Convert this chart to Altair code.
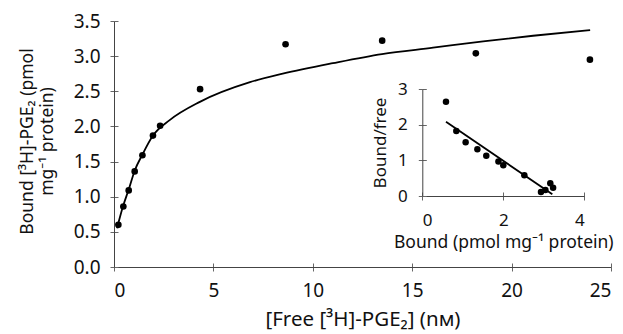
import altair as alt
import pandas as pd

# Main saturation data
free_nm = [0.22, 0.47, 0.74, 1.04, 1.43, 1.96, 2.32, 4.33, 8.63, 13.49, 18.2, 23.94]
bound_pmol = [0.60, 0.86, 1.09, 1.36, 1.59, 1.87, 2.01, 2.53, 3.17, 3.22, 3.04, 2.95]

# Fitted curve
curve_x = [0.15, 0.45, 0.76, 1.04, 1.43, 1.96, 2.8, 4.32, 6.84, 8.49, 11.01, 13.48, 16.05, 18.57, 21.08, 23.95]
curve_y = [0.55, 0.86, 1.12, 1.37, 1.60, 1.87, 2.09, 2.35, 2.63, 2.75, 2.90, 3.03, 3.12, 3.21, 3.29, 3.37]

# Scatchard inset
sc_bound = [0.585, 0.84, 1.07, 1.36, 1.58, 1.88, 2.0, 2.52, 2.93, 3.04, 3.16, 3.23]
sc_ratio = [2.64, 1.82, 1.51, 1.31, 1.13, 0.97, 0.86, 0.58, 0.11, 0.17, 0.36, 0.23]
sc_line_x = [0.585, 3.21]
sc_line_y = [2.08, 0.05]

main_x_ticks = [0, 5, 10, 15, 20, 25]
main_y_ticks = [0, 0.5, 1.0, 1.5, 2.0, 2.5, 3.0, 3.5]
inset_x_ticks = [0, 2, 4]
inset_y_ticks = [0, 1, 2, 3]

W, H = 497, 246
INSET_X = [308.3, 470.3]
INSET_Y = [175, 68]

FONT = "Noto Sans"
DOM = "#444444"
TICK = "#666666"
TXT = "#111111"

pts = pd.DataFrame({"x": free_nm, "y": bound_pmol})
crv = pd.DataFrame({"x": curve_x, "y": curve_y})
spts = pd.DataFrame({"x": sc_bound, "y": sc_ratio})
sline = pd.DataFrame({"x": sc_line_x, "y": sc_line_y})

mx_scale = alt.Scale(domain=[0, 25], nice=False, zero=False)
my_scale = alt.Scale(domain=[0, 3.5], nice=False, zero=False)
ix_scale = alt.Scale(domain=[0, 4], range=INSET_X, nice=False, zero=False)
iy_scale = alt.Scale(domain=[0, 3], range=INSET_Y, nice=False, zero=False)

main_pts = alt.Chart(pts).mark_circle(size=44, color="black", opacity=1).encode(
    x=alt.X("x:Q", scale=mx_scale, axis=alt.Axis(
        orient="bottom", values=main_x_ticks, format="d", grid=False,
        title="[Free [³H]-PGE₂] (nм)", titleY=58, titleBaseline="alphabetic",
        titleFontSize=20.5, labelFontSize=19, tickSize=4, labelPadding=25,
        labelBaseline="alphabetic", domainColor=DOM, tickColor=TICK,
        labelColor=TXT, titleColor=TXT, titleFontWeight="normal")),
    y=alt.Y("y:Q", scale=my_scale, axis=alt.Axis(
        orient="left", values=main_y_ticks, format=".1f", grid=False,
        title=["Bound [³H]-PGE₂ (pmol", "mg⁻¹ protein)"], titleX=-82, titleY=120,
        titleBaseline="alphabetic", titleAngle=270, titleLineHeight=20,
        titleFontSize=17.5, labelFontSize=19, tickSize=4, labelPadding=10,
        domainColor=DOM, tickColor=TICK, labelColor=TXT, titleColor=TXT,
        titleFontWeight="normal")),
)

main_curve = alt.Chart(crv).mark_line(color="black", strokeWidth=1.8, interpolate="monotone").encode(
    x=alt.X("x:Q", scale=mx_scale, axis=alt.Axis(
        orient="bottom", values=main_x_ticks, labels=False, domain=False, grid=False,
        title=None, offset=-4, tickSize=4, tickColor=TICK)),
    y=alt.Y("y:Q", scale=my_scale, axis=alt.Axis(
        orient="left", values=main_y_ticks, labels=False, domain=False, grid=False,
        title=None, offset=-4, tickSize=4, tickColor=TICK)),
)

inset_pts = alt.Chart(spts).mark_circle(size=42, color="black", opacity=1).encode(
    x=alt.X("x:Q", scale=ix_scale, axis=alt.Axis(
        orient="bottom", values=inset_x_ticks, format="d", grid=False, offset=-71,
        title="Bound (pmol mg⁻¹ protein)", titleY=51, titleBaseline="alphabetic",
        titleFontSize=17.5, labelFontSize=17, tickSize=4, labelPadding=25,
        labelBaseline="alphabetic", domainColor=DOM, tickColor=TICK,
        labelColor=TXT, titleColor=TXT, titleFontWeight="normal")),
    y=alt.Y("y:Q", scale=iy_scale, axis=alt.Axis(
        orient="left", values=inset_y_ticks, format="d", grid=False, offset=-308.3,
        title="Bound/free", titleX=-37, titleBaseline="alphabetic", titleAngle=270,
        titleFontSize=17, labelFontSize=17, tickSize=4, labelPadding=11,
        domainColor=DOM, tickColor=TICK, labelColor=TXT, titleColor=TXT,
        titleFontWeight="normal")),
)

inset_line = alt.Chart(sline).mark_line(color="black", strokeWidth=1.8).encode(
    x=alt.X("x:Q", scale=ix_scale, axis=alt.Axis(
        orient="bottom", values=inset_x_ticks, labels=False, domain=False, grid=False,
        title=None, offset=-75, tickSize=4, tickColor=TICK)),
    y=alt.Y("y:Q", scale=iy_scale, axis=alt.Axis(
        orient="left", values=inset_y_ticks, labels=False, domain=False, grid=False,
        title=None, offset=-312.3, tickSize=4, tickColor=TICK)),
)

chart = alt.layer(main_curve, main_pts, inset_line, inset_pts).resolve_scale(
    x="independent", y="independent"
).properties(
    width=W, height=H,
    autosize=alt.AutoSizeParams(type="none"),
    padding={"left": 106, "top": 13, "right": 4, "bottom": 66},
).configure(font=FONT).configure_view(stroke=None)

chart.save("out.html", embed_options={"renderer": "svg", "actions": False})
